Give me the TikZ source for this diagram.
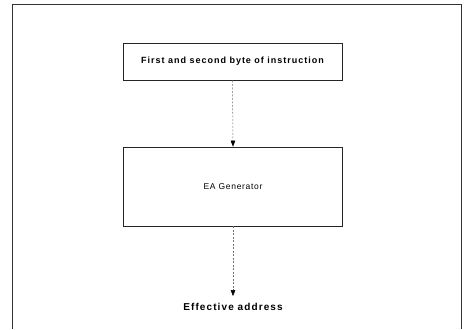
\documentclass[tikz,border=0pt]{standalone}
\usepackage{fontspec}
\setmainfont{Liberation Sans}
\usetikzlibrary{arrows.meta}
\tikzset{
  blk/.style={draw=black!85, line width=0.6pt, minimum width=219pt, inner sep=0pt},
  flow/.style={draw=black!55, line width=0.5pt, dash pattern=on 2pt off 1.5pt,
    -{Triangle[width=4.5pt,length=6pt,black]}},
}
\begin{document}
\begin{tikzpicture}[x=1pt,y=-1pt]
\useasboundingbox (0,0) rectangle (468,329);
% outer frame, open at the bottom
\draw[black!80, line width=0.6pt] (12,329)--(12,4)--(461,4)--(461,329);

\node[blk, minimum height=37pt] (bytes) at (232.5,61.5)
  {\fontsize{9}{10}\selectfont\addfontfeature{LetterSpace=11}\bfseries First and second byte of instruction};
\node[blk, minimum height=79pt] (eagen) at (233,186.5)
  {\fontsize{8.5}{10}\selectfont\addfontfeature{LetterSpace=8}EA Generator};
\node[inner sep=0pt] (ea) at (233,307)
  {\fontsize{10}{11}\selectfont\addfontfeature{LetterSpace=11}\bfseries Effective address};

\draw[flow] (bytes.south) -- (eagen.north);
\draw[flow] (eagen.south) -- ([yshift=7pt]ea.north);
\end{tikzpicture}
\end{document}
